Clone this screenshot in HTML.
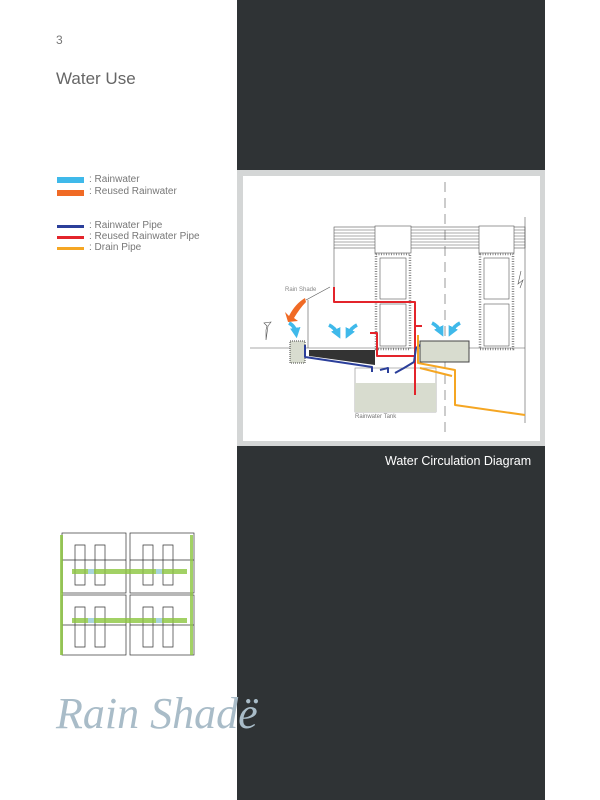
<!DOCTYPE html>
<html><head><style>
body{margin:0;width:600px;height:800px;background:#fff;position:relative;overflow:hidden;font-family:"Liberation Sans",sans-serif;}
.t{position:absolute;color:#777;font-size:10px;white-space:nowrap;}
.sw{position:absolute;left:57px;width:27px;}
</style></head><body>
<div style="position:absolute;left:237px;top:0;width:308px;height:800px;background:#2f3335"></div>
<div style="position:absolute;left:237px;top:170px;width:308px;height:276px;background:#d4d6d6"></div>
<div style="position:absolute;left:243px;top:176px;width:297px;height:265px;background:#fff"></div>
<div class="t" style="left:56px;top:33px;font-size:12px">3</div>
<div class="t" style="left:56px;top:69px;font-size:17px;color:#666">Water Use</div>
<div class="sw" style="top:177px;height:6px;background:#3fb9ea"></div>
<div class="sw" style="top:190px;height:6px;background:#f06a25"></div>
<div class="sw" style="top:225px;height:3px;background:#2b3f9a"></div>
<div class="sw" style="top:236px;height:3px;background:#e3242b"></div>
<div class="sw" style="top:247px;height:3px;background:#f5a623"></div>
<div class="t" style="left:89px;top:174px">: Rainwater</div>
<div class="t" style="left:89px;top:186px">: Reused Rainwater</div>
<div class="t" style="left:89px;top:220px">: Rainwater Pipe</div>
<div class="t" style="left:89px;top:231px">: Reused Rainwater Pipe</div>
<div class="t" style="left:89px;top:242px">: Drain Pipe</div>
<div class="t" style="left:385px;top:454px;color:#fff;font-size:12.5px">Water Circulation Diagram</div>
<svg width="600" height="800" style="position:absolute;left:0;top:0">
<defs><marker id="ah" viewBox="0 0 10 10" refX="5" refY="5" markerWidth="3" markerHeight="3" orient="auto"><path d="M0 0L10 5L0 10z" fill="#3fb9ea"/></marker></defs>
<g stroke="#555" stroke-width="0.6" fill="none">
<rect x="334" y="227" width="191" height="21" fill="#fff"/>
<path d="M334 230H525M334 233H525M334 236H525M334 239H525M334 242H525M334 245H525"/>
<path d="M334 248V287"/>
<rect x="375" y="226" width="36" height="27" fill="#fff"/>
<rect x="479" y="226" width="35" height="27" fill="#fff"/>
<rect x="376" y="254" width="34" height="95" fill="#fff" stroke="#888" stroke-width="2.5" stroke-dasharray="1 1.5" />
<rect x="380" y="258" width="26" height="41"/><rect x="380" y="304" width="26" height="42"/>
<rect x="480" y="254" width="33" height="95" fill="#fff" stroke="#888" stroke-width="2.5" stroke-dasharray="1 1.5"/>
<rect x="484" y="258" width="25" height="41"/><rect x="484" y="304" width="25" height="42"/>
<path d="M250 348H525M525 217V423M308 300V348M306 300L330 287"/>
<path d="M445 182V435" stroke-dasharray="10 6"/>
<path d="M521 271L518 284L523 280L520 288"/>
<path d="M264 323l3 3l-1 4l0 10l2 -14l3 -4z"/>
</g>
<text x="285" y="291" font-size="6" fill="#888" font-family="Liberation Sans">Rain Shade</text>
<text x="355" y="418" font-size="6" fill="#777" font-family="Liberation Sans">Rainwater Tank</text>
<rect x="290" y="341" width="15" height="22" fill="#d8dccf" stroke="#444" stroke-width="1" stroke-dasharray="1 1"/>
<rect x="420" y="341" width="49" height="21" fill="#d8dccf" stroke="#444" stroke-width="1"/>
<rect x="355" y="368" width="81" height="44" fill="#fff" stroke="#888" stroke-width="0.6"/>
<rect x="355" y="383" width="81" height="29" fill="#d8dccf"/>
<path d="M309 350H375V365L309 356Z" fill="#333"/>
<g fill="none" stroke-width="2" stroke-linejoin="round">
<path d="M334 287V302H415V395M370 333H377V356H415M416 326H422" stroke="#e3242b"/>
<path d="M305 345V357L372 367V372M380 370L388 368V373M395 373L404 368L414 362L416 348L420 345" stroke="#2b3f9a"/>
<path d="M418 335V363L455 370V405L525 415M420 368L452 376" stroke="#f5a623"/>
</g>
<g fill="none" stroke="#3fb9ea" stroke-width="3.5" marker-end="url(#ah)">
<path d="M289 323q6 3 7 10"/>
<path d="M329 325q6 3 9 9"/>
<path d="M357 325q-6 3 -9 9"/>
<path d="M432 323q6 3 9 9"/>
<path d="M460 323q-6 3 -9 9"/>
</g>
<path d="M305 298q-10 6 -16 18l-4 -4l3 10l10 -1l-4 -3q6 -10 12 -16z" fill="#f06a25"/>
<!-- sketch -->
<g stroke="#333" stroke-width="0.7" fill="#fff">
<rect x="62" y="533" width="64" height="60"/><rect x="130" y="533" width="64" height="60"/>
<rect x="62" y="595" width="64" height="60"/><rect x="130" y="595" width="64" height="60"/>
<path d="M75 545h10v40h-10zM95 545h10v40h-10zM143 545h10v40h-10zM163 545h10v40h-10zM75 607h10v40h-10zM95 607h10v40h-10zM143 607h10v40h-10zM163 607h10v40h-10z"/>
<path d="M62 560h64M130 560h64M62 625h64M130 625h64"/>
</g>
<g fill="#8cc63f" opacity="0.8"><rect x="72" y="569" width="115" height="5"/><rect x="72" y="618" width="115" height="5"/><rect x="60" y="535" width="3" height="120"/><rect x="190" y="535" width="3" height="120"/></g>
<g fill="#a8d4dd"><rect x="88" y="569" width="6" height="5"/><rect x="156" y="569" width="6" height="5"/><rect x="88" y="618" width="6" height="5"/><rect x="156" y="618" width="6" height="5"/></g>
<text x="56" y="728" font-size="44" fill="#a9bcc8" font-family="Liberation Serif" font-style="italic">Rain Shadë</text>
</svg>
</body></html>
